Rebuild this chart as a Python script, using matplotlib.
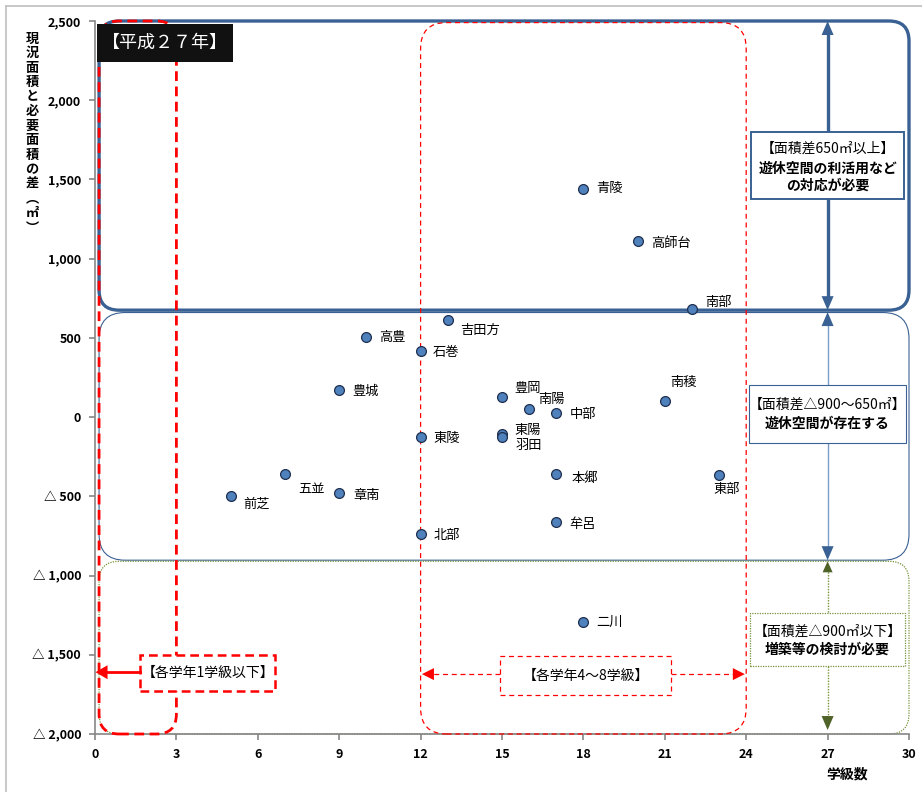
import numpy as np
import matplotlib.pyplot as plt
from matplotlib.patches import FancyBboxPatch, Rectangle
from matplotlib.lines import Line2D
from matplotlib.ticker import FuncFormatter, MultipleLocator

plt.rcParams['font.family'] = ['Noto Sans CJK JP', 'DejaVu Sans']

# data: school name, number of classes, area difference (m2)
schools = ['青陵', '高師台', '南部', '吉田方', '高豊', '石巻', '豊城', '豊岡', '南陽', '中部', '南稜',
           '東陵', '東陽', '羽田', '本郷', '東部', '五並', '前芝', '章南', '牟呂', '北部', '二川']
classes = [18, 20, 22, 13, 10, 12, 9, 15, 16, 17, 21,
           12, 15, 15, 17, 23, 7, 5, 9, 17, 12, 18]
diff = [1440, 1110, 680, 610, 505, 415, 170, 130, 50, 25, 100,
        -125, -105, -125, -360, -365, -360, -500, -480, -665, -735, -1290]
# label offsets (pixels)
offsets = [(13, 0), (13, -2), (13, 7), (12, -10), (13, 0), (12, -1), (13, -1), (12, 8), (9, 10),
           (13, -1), (5, 19), (13, -2), (12, 3), (14, -9), (15, -4), (-6, -15), (13, -15),
           (13, -8), (14, -2), (13, -2), (13, -2), (13, -1)]

W, H = 922, 792
fig = plt.figure(figsize=(W / 100, H / 100), dpi=100)
ax = fig.add_axes([95 / W, 58 / H, 814 / W, 713 / H])
ax.set_xlim(0, 30)
ax.set_ylim(-2000, 2500)
xpp = 30 / 814
ypp = 4500 / 713

dblue = '#3A6193'
lblue = '#7A9CC8'
green = '#77933C'
dgreen = '#4F6228'
red = '#FF0000'


def rbox(x0, y0, x1, y1, r, **kw):
    p = FancyBboxPatch((x0, y0), x1 - x0, y1 - y0,
                       boxstyle=f'round,pad=0,rounding_size={r * xpp}',
                       mutation_aspect=ypp / xpp, clip_on=False, **kw)
    ax.add_patch(p)


def head(x, tip, up, color, ln=14, wd=6):
    base = tip - ln * ypp if up else tip + ln * ypp
    ax.annotate('', xy=(x, tip), xytext=(x, base),
                arrowprops=dict(arrowstyle=f'-|>,head_length={ln * 0.072},head_width={wd * 0.072}',
                                color=color, lw=0, shrinkA=0, shrinkB=0), zorder=7)


def hhead(y, tip, left, color, ln=12, wd=6):
    base = tip + ln * xpp if left else tip - ln * xpp
    ax.annotate('', xy=(tip, y), xytext=(base, y),
                arrowprops=dict(arrowstyle=f'-|>,head_length={ln * 0.072},head_width={wd * 0.072}',
                                color=color, lw=0, shrinkA=0, shrinkB=0), zorder=7)


# region boxes
rbox(0.15, 675, 30, 2500, 20, fc='none', ec=dblue, lw=2.4, zorder=2)
rbox(0.15, -903, 30, 660, 26, fc='none', ec=dblue, lw=0.8, zorder=2)
rbox(0.15, -2000, 30, -910, 20, fc='none', ec=green, lw=0.9, ls=(0, (1, 1)), zorder=2)
rbox(0.15, -2000, 3, 2500, 20, fc='none', ec=red, lw=2.0, ls=(0, (3.5, 2)), zorder=3)
rbox(12, -2000, 24, 2490, 26, fc='none', ec=red, lw=0.9, ls=(0, (4, 3)), zorder=3)

# right vertical arrows at x=27
ax.plot([27, 27], [2420, 760], color=dblue, lw=2.4, zorder=4)
head(27, 2500, True, dblue)
head(27, 675, False, dblue)
ax.plot([27, 27], [600, -840], color=lblue, lw=1.0, zorder=4)
head(27, 663, True, dblue)
head(27, -903, False, dblue)
ax.plot([27, 27], [-960, -1950], color=green, lw=1.0, ls=(0, (1, 1)), zorder=4)
head(27, -910, True, dgreen, ln=11, wd=5)
head(27, -1975, False, dgreen)

# text boxes on the right
ax.add_patch(Rectangle((24.18, 1376), 5.64, 423, fc='white', ec=dblue, lw=1.4, zorder=5))
ax.text(27, 1692, '【面積差650㎡以上】', ha='center', va='center', fontsize=10, zorder=6)
ax.text(27, 1566, '遊休空間の利活用など', ha='center', va='center', fontsize=10,
        fontweight='bold', zorder=6)
ax.text(27, 1458, 'の対応が必要', ha='center', va='center', fontsize=10, fontweight='bold', zorder=6)

ax.add_patch(Rectangle((24.1, -164), 5.8, 366, fc='white', ec=dblue, lw=0.8, zorder=5))
ax.text(27, 76, '【面積差△900～650㎡】', ha='center', va='center', fontsize=10, zorder=6)
ax.text(27, -44, '遊休空間が存在する', ha='center', va='center', fontsize=10, fontweight='bold', zorder=6)

ax.add_patch(Rectangle((24.15, -1572), 5.71, 335, fc='white', ec=green, lw=0.9, ls=(0, (1, 1)), zorder=5))
ax.text(27, -1351, '【面積差△900㎡以下】', ha='center', va='center', fontsize=10, zorder=6)
ax.text(27, -1471, '増築等の検討が必要', ha='center', va='center', fontsize=10, fontweight='bold', zorder=6)

# class-range labels
ax.add_patch(Rectangle((1.66, -1730), 4.97, 228, fc='white', ec=red, lw=1.8, ls=(0, (3.5, 2)),
                       zorder=5))
ax.text(4.15, -1616, '【各学年1学級以下】', ha='center', va='center', fontsize=10, zorder=6)
ax.plot([1.66, 0.35], [-1610, -1610], color=red, lw=2.0, zorder=6, clip_on=False)
hhead(-1610, 0.02, True, red, ln=12, wd=7)

ax.add_patch(Rectangle((14.93, -1755), 6.3, 246, fc='white', ec=red, lw=0.9, ls=(0, (4, 3)), zorder=5))
ax.text(18.08, -1632, '【各学年4～8学級】', ha='center', va='center', fontsize=10, zorder=6)
ax.plot([14.93, 12.4], [-1622, -1622], color=red, lw=0.9, ls=(0, (4, 3)), zorder=6)
ax.plot([21.23, 23.6], [-1622, -1622], color=red, lw=0.9, ls=(0, (4, 3)), zorder=6)
hhead(-1622, 12.05, True, red)
hhead(-1622, 23.95, False, red)

# points
ax.scatter(classes, diff, s=50, c='#4F81BD', edgecolors='#1F2F4F', linewidths=0.9, zorder=8)
for name, x, y, (dx, dy) in zip(schools, classes, diff, offsets):
    ax.annotate(name, (x, y), xytext=(dx, dy), textcoords='offset pixels',
                ha='left', va='center', fontsize=9.5, zorder=9)

# axes styling
for s in ['top', 'right']:
    ax.spines[s].set_visible(False)
for s in ['left', 'bottom']:
    ax.spines[s].set_color('#868686')
    ax.spines[s].set_linewidth(1.2)
ax.xaxis.set_major_locator(MultipleLocator(3))
ax.yaxis.set_major_locator(MultipleLocator(500))


def yfmt(v, pos):
    if v < 0:
        return f'△ {abs(int(v)):,}'
    return f'{int(v):,}'


ax.yaxis.set_major_formatter(FuncFormatter(yfmt))
ax.tick_params(axis='both', colors='#868686', length=4, width=1.2, labelcolor='black',
               labelsize=9, pad=6)
for lab in ax.get_xticklabels() + ax.get_yticklabels():
    lab.set_fontweight('bold')

# year label
fig.patches.append(Rectangle((97 / W, 1 - 62 / H), 136 / W, 38 / H, transform=fig.transFigure,
                             fc='#111111', ec='none', zorder=10))
fig.text(165 / W, 1 - 43 / H, '【平成２７年】', color='white', ha='center', va='center',
         fontsize=13, zorder=11)

# axis titles
ylab = '現況面積と必要面積の差︵㎡︶'
fig.text(32 / W, 1 - 133 / H, '\n'.join(ylab), ha='center', va='center', fontsize=9.5,
         fontweight='bold', linespacing=1.05)
fig.text(847 / W, 1 - 775 / H, '学級数', ha='center', va='center', fontsize=10, fontweight='bold')

# outer frame
fig.add_artist(Line2D([6 / W, 6 / W], [0, 1 - 6 / H], color='#BFBFBF', lw=1.2))
fig.add_artist(Line2D([6 / W, 1], [1 - 6 / H, 1 - 6 / H], color='#BFBFBF', lw=1.2))

fig.savefig('out.png', dpi=100)
